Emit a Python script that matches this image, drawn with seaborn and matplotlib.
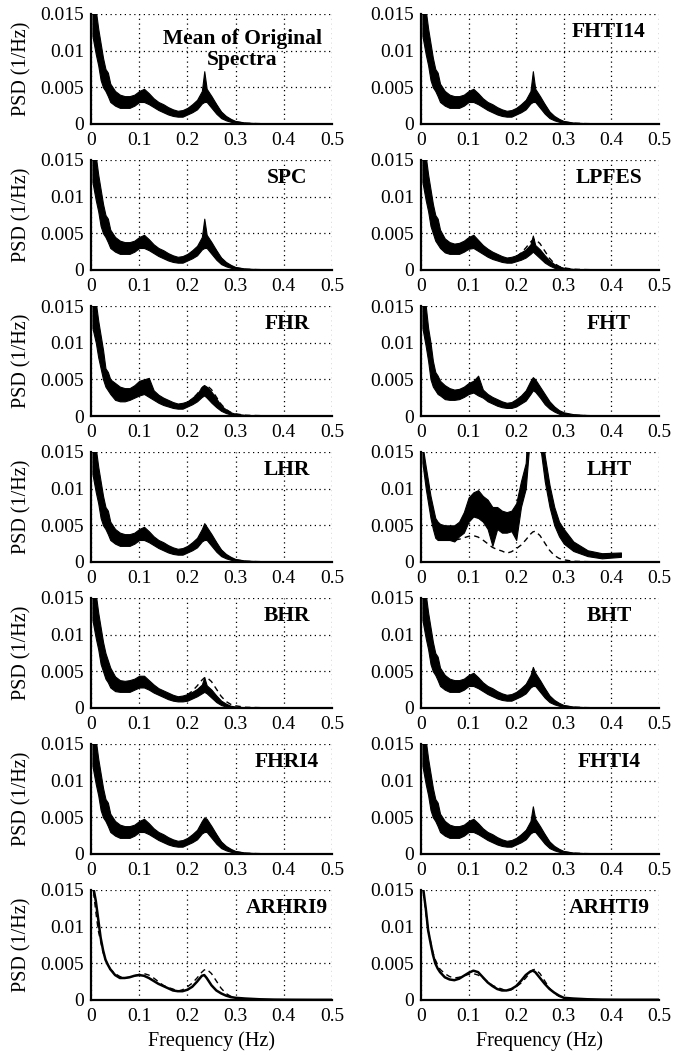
import numpy as np
import matplotlib
matplotlib.use("Agg")
import matplotlib.pyplot as plt
import seaborn as sns

sns.set_theme(style="white")
plt.rcParams["font.family"] = ["Liberation Serif", "DejaVu Serif"]
plt.rcParams["text.color"] = "black"

FREQ = [0.003, 0.01, 0.015, 0.02, 0.025, 0.03, 0.035, 0.04, 0.05, 0.06,
        0.07, 0.08, 0.09, 0.10, 0.11, 0.12, 0.13, 0.14, 0.15, 0.16,
        0.17, 0.18, 0.19, 0.20, 0.21, 0.22, 0.23, 0.235, 0.24, 0.25,
        0.26, 0.27, 0.28, 0.29, 0.30, 0.32, 0.35, 0.38, 0.42, 0.46, 0.50]

# PSD values below are in units of 1e-3 /Hz
# noisy spectra: lower / upper edge of the black band
ORIG_LO = [12.0, 9.5, 8.0, 6.0, 5.0, 4.5, 3.8, 3.0, 2.5, 2.2,
           2.2, 2.2, 2.5, 3.0, 3.0, 2.7, 2.3, 1.9, 1.6, 1.3,
           1.1, 1.0, 1.0, 1.3, 1.6, 2.0, 2.8, 3.0, 3.0, 2.2,
           1.4, 0.8, 0.5, 0.3, 0.2, 0.1, 0.03, 0.01, 0.0, 0.0, 0.0]
ORIG_HI = [16.0, 15.5, 13.0, 11.0, 9.0, 7.5, 7.0, 5.5, 4.5, 4.0,
           3.8, 3.8, 4.0, 4.5, 4.8, 4.2, 3.5, 3.0, 2.7, 2.3,
           2.0, 1.8, 1.9, 2.2, 2.7, 3.3, 4.5, 7.2, 4.8, 3.8,
           2.7, 1.7, 1.1, 0.7, 0.4, 0.2, 0.1, 0.06, 0.05, 0.04, 0.04]

# height of the sharp spike near 0.235 Hz for panels close to the original
SPIKE = {"SPC": 7.0, "FHTI14": 7.2, "LHR": 5.3, "BHT": 5.6,
         "FHRI4": 5.0, "FHTI4": 6.5}

FHR_LO = [12.0, 10.0, 8.0, 6.5, 5.0, 4.0, 3.5, 3.0, 2.2, 2.0,
          2.0, 2.2, 2.5, 2.8, 3.0, 2.6, 2.2, 1.8, 1.5, 1.3,
          1.1, 1.0, 1.0, 1.3, 1.6, 2.0, 2.6, 2.8, 2.5, 1.8,
          1.2, 0.7, 0.4, 0.2, 0.1, 0.05, 0.02, 0.01, 0.0, 0.0, 0.0]
FHR_HI = [16.0, 15.5, 13.0, 11.0, 9.0, 6.5, 6.0, 5.0, 4.5, 4.0,
          3.8, 3.8, 4.2, 4.8, 5.0, 5.2, 3.5, 2.9, 2.5, 2.2,
          1.9, 1.7, 1.8, 2.0, 2.5, 3.0, 4.0, 4.2, 4.0, 3.3,
          2.4, 1.4, 0.9, 0.5, 0.3, 0.15, 0.08, 0.05, 0.04, 0.04, 0.04]

FHT_LO = [12.0, 9.5, 7.5, 5.0, 4.0, 3.5, 3.0, 2.8, 2.3, 2.2,
          2.2, 2.3, 2.6, 3.0, 3.2, 2.8, 2.5, 2.0, 1.7, 1.4,
          1.2, 1.1, 1.1, 1.3, 1.7, 2.1, 3.0, 3.5, 3.3, 2.5,
          1.6, 1.0, 0.6, 0.3, 0.2, 0.1, 0.04, 0.02, 0.0, 0.0, 0.0]
FHT_HI = [16.0, 15.0, 12.0, 10.0, 7.5, 6.0, 5.5, 4.8, 4.2, 3.8,
          3.6, 3.7, 4.0, 4.5, 4.8, 5.5, 3.6, 3.0, 2.6, 2.3,
          2.0, 1.8, 1.9, 2.3, 2.8, 3.5, 4.8, 5.3, 5.0, 4.0,
          3.0, 2.0, 1.3, 0.8, 0.5, 0.25, 0.12, 0.07, 0.05, 0.04, 0.04]

LPFES_LO = [12.0, 9.5, 8.0, 6.0, 5.0, 4.0, 3.5, 3.0, 2.4, 2.2,
            2.2, 2.2, 2.5, 2.9, 3.0, 2.6, 2.2, 1.8, 1.5, 1.3,
            1.1, 1.0, 1.0, 1.2, 1.4, 1.7, 2.2, 2.5, 2.2, 1.6,
            1.0, 0.6, 0.3, 0.2, 0.1, 0.05, 0.02, 0.01, 0.0, 0.0, 0.0]
LPFES_HI = [16.0, 15.5, 13.0, 11.0, 9.0, 7.5, 7.0, 5.5, 4.3, 3.8,
            3.6, 3.7, 4.0, 4.5, 4.8, 4.1, 3.4, 2.9, 2.5, 2.2,
            1.9, 1.7, 1.8, 2.0, 2.4, 2.8, 3.5, 4.7, 3.4, 2.8,
            2.0, 1.3, 0.8, 0.5, 0.3, 0.15, 0.08, 0.05, 0.04, 0.04, 0.04]

BHR_LO = [12.0, 9.5, 8.0, 6.0, 5.0, 4.0, 3.5, 2.8, 2.3, 2.2,
          2.2, 2.2, 2.5, 2.8, 2.8, 2.5, 2.1, 1.8, 1.5, 1.2,
          1.0, 0.9, 0.9, 1.0, 1.3, 1.6, 2.0, 2.2, 2.0, 1.4,
          0.8, 0.4, 0.2, 0.1, 0.03, 0.01, 0.0, 0.0, 0.0, 0.0, 0.0]
BHR_HI = [16.0, 15.5, 13.0, 11.0, 9.0, 7.5, 6.5, 5.5, 4.3, 3.8,
          3.7, 3.8, 4.0, 4.4, 4.4, 3.8, 3.2, 2.7, 2.4, 2.1,
          1.8, 1.6, 1.7, 1.9, 2.2, 2.6, 3.2, 4.2, 3.1, 2.5,
          1.7, 1.0, 0.6, 0.3, 0.2, 0.1, 0.05, 0.04, 0.04, 0.04, 0.04]

nan = np.nan
LHT_LO = [13.5, 10.0, 8.0, 6.0, 4.5, 3.3, 3.0, 3.0, 3.0, 3.0,
          2.8, 3.5, 4.0, 5.5, 6.2, 6.0, 5.5, 4.5, 2.2, 4.5,
          4.0, 4.0, 4.2, 3.0, 7.5, 10.0, 18.0, 20.0, 20.0, 16.0,
          11.0, 7.5, 5.0, 3.5, 2.5, 1.5, 0.8, 0.5, 0.7, nan, nan]
LHT_HI = [16.0, 13.0, 11.0, 9.0, 7.5, 6.0, 5.5, 5.2, 5.0, 5.0,
          5.0, 5.5, 6.8, 8.8, 9.5, 9.8, 9.0, 8.5, 7.5, 7.5,
          7.0, 6.8, 7.0, 8.0, 11.0, 13.5, 25.0, 25.0, 25.0, 20.0,
          14.5, 10.5, 7.5, 5.5, 4.5, 2.8, 1.6, 1.2, 1.3, nan, nan]

# smooth curves
REF_DASHED = [16.0, 12.0, 9.5, 8.0, 6.5, 5.5, 4.8, 4.2, 3.6, 3.2,
              3.0, 3.1, 3.3, 3.5, 3.6, 3.4, 3.0, 2.5, 2.0, 1.7,
              1.5, 1.2, 1.4, 1.8, 2.3, 3.0, 3.8, 4.1, 4.2, 3.6,
              2.6, 1.6, 0.9, 0.5, 0.3, 0.1, 0.05, 0.02, 0.01, 0.0, 0.0]
ARHRI9 = [16.0, 13.5, 11.0, 8.5, 6.8, 5.5, 4.8, 4.2, 3.4, 3.0,
          3.0, 3.1, 3.3, 3.4, 3.3, 3.0, 2.6, 2.2, 1.9, 1.6,
          1.3, 1.2, 1.2, 1.4, 1.8, 2.5, 3.3, 3.4, 3.0, 2.0,
          1.3, 0.9, 0.6, 0.4, 0.3, 0.2, 0.1, 0.05, 0.03, 0.02, 0.02]
ARHTI9 = [16.0, 12.5, 9.5, 7.8, 6.2, 5.0, 4.3, 3.8, 3.1, 2.8,
          2.7, 2.9, 3.3, 3.7, 4.0, 3.8, 3.1, 2.4, 1.9, 1.5,
          1.3, 1.3, 1.5, 1.9, 2.6, 3.4, 3.9, 4.0, 3.8, 3.0,
          2.2, 1.5, 1.0, 0.6, 0.3, 0.2, 0.1, 0.05, 0.03, 0.03, 0.03]

XTICKS = [0, 0.1, 0.2, 0.3, 0.4, 0.5]
XTICKLABELS = ["0", "0.1", "0.2", "0.3", "0.4", "0.5"]
YTICKS = [0, 0.005, 0.01, 0.015]
YTICKLABELS = ["0", "0.005", "0.01", "0.015"]


def milli(vals):
    return np.array(vals, dtype=float) * 1e-3


def with_spike(name):
    hi = list(ORIG_HI)
    hi[FREQ.index(0.235)] = SPIKE[name]
    return hi


# (title, kind, data...)
panels = [
    ("Mean of Original\nSpectra", "band", ORIG_LO, ORIG_HI),
    ("FHTI14", "band", ORIG_LO, with_spike("FHTI14")),
    ("SPC", "band", ORIG_LO, with_spike("SPC")),
    ("LPFES", "band", LPFES_LO, LPFES_HI),
    ("FHR", "band", FHR_LO, FHR_HI),
    ("FHT", "band", FHT_LO, FHT_HI),
    ("LHR", "band", ORIG_LO, with_spike("LHR")),
    ("LHT", "band", LHT_LO, LHT_HI),
    ("BHR", "band", BHR_LO, BHR_HI),
    ("BHT", "band", ORIG_LO, with_spike("BHT")),
    ("FHRI4", "band", ORIG_LO, with_spike("FHRI4")),
    ("FHTI4", "band", ORIG_LO, with_spike("FHTI4")),
    ("ARHRI9", "line", ARHRI9, None),
    ("ARHTI9", "line", ARHTI9, None),
]

W, H = 674, 1055
fig = plt.figure(figsize=(W / 100, H / 100), dpi=100)

col_left = [91, 421]
col_width = [241, 238]
row_top0, row_step, ax_h = 14, 146, 110

freq = np.array(FREQ)
ref = milli(REF_DASHED)

for i, (title, kind, a, b) in enumerate(panels):
    r, c = divmod(i, 2)
    top = row_top0 + r * row_step
    ax = fig.add_axes([col_left[c] / W, 1 - (top + ax_h) / H,
                       col_width[c] / W, ax_h / H])

    # dashed reference spectrum
    sns.lineplot(x=freq, y=ref, ax=ax, color="black", linewidth=1.0,
                 linestyle=(0, (4, 3)), zorder=2)

    if kind == "band":
        ax.fill_between(freq, milli(a), milli(b), color="black",
                        edgecolor="black", linewidth=0.8, zorder=3)
    else:
        sns.lineplot(x=freq, y=milli(a), ax=ax, color="black",
                     linewidth=1.8, zorder=3)

    ax.set_xlim(0, 0.5)
    ax.set_ylim(0, 0.015)
    ax.set_xticks(XTICKS)
    ax.set_xticklabels(XTICKLABELS)
    ax.set_yticks(YTICKS)
    ax.set_yticklabels(YTICKLABELS)
    ax.tick_params(length=0, labelsize=14, colors="black")
    ax.tick_params(axis="x", pad=6)
    ax.tick_params(axis="y", pad=5)

    ax.grid(True, color="black", linestyle=(0, (1, 2.8)), linewidth=0.9)
    ax.set_axisbelow(True)
    for side in ["top", "right"]:
        ax.spines[side].set_visible(False)
    for side in ["left", "bottom"]:
        ax.spines[side].set_color("black")
        ax.spines[side].set_linewidth(1.6)

    if c == 0:
        ax.set_ylabel("PSD (1/Hz)", fontsize=14.5, color="black", labelpad=6)
    else:
        ax.set_ylabel("")
    if r == 6:
        ax.set_xlabel("Frequency (Hz)", fontsize=14.5, color="black",
                      labelpad=4)
    else:
        ax.set_xlabel("")

    if i == 0:
        ax.text(0.628, 0.68, title, transform=ax.transAxes, ha="center",
                va="center", fontsize=15.5, fontweight="bold",
                color="black", multialignment="center", linespacing=1.05,
                zorder=5)
    else:
        ax.text(0.813 if c == 0 else 0.79, 0.835, title,
                transform=ax.transAxes, ha="center", va="center",
                fontsize=15.5, fontweight="bold", color="black", zorder=5)

fig.savefig("out.png", dpi=100)
